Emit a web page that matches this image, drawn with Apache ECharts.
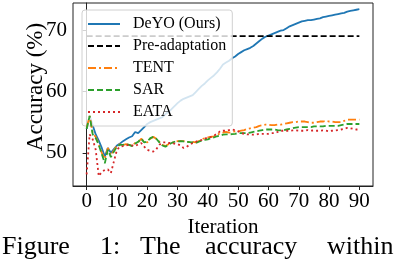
<!DOCTYPE html>
<html>
<head>
<meta charset="utf-8">
<script src="https://cdn.jsdelivr.net/npm/echarts@6/dist/echarts.min.js"></script>
<style>
html,body{margin:0;padding:0;background:#fff;}
#c{width:396px;height:262px;}
</style>
</head>
<body>
<div id="c"></div>
<script>
// Iteration 0..90 (value index = iteration)
const deyo = [53.9,56.0,54.5,53.0,52.0,50.8,49.4,50.8,50.0,50.6,
  51.2,51.5,51.9,52.2,52.5,52.7,53.4,53.2,53.7,54.2,
  54.7,55.0,55.2,55.4,55.6,55.8,56.3,56.7,57.1,57.6,
  58.1,58.5,58.8,59.0,59.2,59.4,59.9,60.4,60.9,61.3,
  61.8,62.2,62.6,63.1,63.7,64.4,64.7,65.0,65.4,65.7,
  66.1,66.4,66.7,66.9,67.1,67.4,67.8,68.2,68.6,68.9,
  69.1,69.3,69.5,69.7,69.9,70.0,70.3,70.6,70.8,71.0,
  71.2,71.4,71.5,71.6,71.6,71.7,71.8,71.9,72.1,72.2,
  72.3,72.4,72.5,72.6,72.7,72.8,73.0,73.1,73.2,73.3,73.4];
const preAdaptation = 69.0;
const preRange = [0, 90];
const tent = [54.1,56.0,53.2,52.6,51.4,50.0,49.0,50.8,49.6,50.4,
  51.2,51.4,51.3,51.4,51.3,51.2,51.6,51.7,52.3,51.8,
  51.7,52.3,52.6,52.3,51.8,51.3,51.1,51.4,51.6,51.8,
  51.9,51.9,51.9,51.8,51.8,51.8,51.7,51.9,52.2,52.4,
  52.5,52.6,52.7,52.9,53.2,53.3,53.4,53.3,53.4,53.5,
  53.5,53.6,53.7,53.9,54.0,54.1,54.2,54.4,54.5,54.6,
  54.6,54.5,54.5,54.6,54.6,54.7,54.8,54.9,55.0,55.0,
  55.1,55.1,55.1,55.0,54.9,54.9,55.0,55.1,55.1,55.2,
  55.1,55.1,55.0,55.0,55.0,55.2,55.4,55.4,55.4,55.4,55.4];
const sar = [53.9,56.0,53.0,52.4,51.3,49.8,48.3,50.5,49.3,50.2,
  51.0,51.3,51.3,51.4,51.3,51.1,51.5,51.8,52.3,51.7,
  51.8,52.4,52.6,52.3,51.7,51.2,51.0,51.3,51.6,51.8,
  51.85,51.9,51.85,51.8,51.75,51.7,51.6,51.8,52.0,52.1,
  52.2,52.4,52.5,52.7,52.8,52.95,53.0,53.0,53.05,53.1,
  53.2,53.2,53.2,53.2,53.3,53.4,53.5,53.6,53.7,53.8,
  53.8,53.8,53.8,53.7,53.65,53.7,53.8,53.9,54.0,54.1,
  54.2,54.2,54.2,54.2,54.2,54.3,54.3,54.3,54.3,54.4,
  54.4,54.4,54.4,54.4,54.5,54.6,54.7,54.7,54.7,54.7,54.7];
const eata = [46.5,53.0,52.2,50.5,46.2,46.9,47.2,47.3,46.7,48.6,
  50.5,51.0,51.1,51.2,51.3,51.2,51.1,51.4,51.6,51.0,
  50.5,50.3,50.2,50.6,51.3,51.7,51.7,51.6,51.6,51.5,
  51.4,51.2,50.8,51.0,51.3,51.6,51.8,52.0,52.1,52.3,
  52.5,52.6,52.8,53.1,53.5,53.6,53.6,53.7,53.8,53.7,
  53.5,53.2,53.1,53.0,53.0,52.95,53.0,53.1,53.1,53.1,
  53.1,53.2,53.2,53.4,53.6,53.6,53.6,53.6,53.65,53.65,
  53.6,53.6,53.6,53.7,53.6,53.65,53.6,53.6,53.65,53.6,
  53.5,53.6,53.65,53.7,53.8,53.9,54.05,54.0,53.9,53.8,53.8];
const xTicks = [0,10,20,30,40,50,60,70,80,90];
const yTicks = [50,60,70];
const seriesNames = ['DeYO (Ours)','Pre-adaptation','TENT','SAR','EATA'];
const captionWords = ['Figure','1:','The','accuracy','within'];

const FONT = '"Liberation Serif", "DejaVu Serif", serif';
const pairs = arr => arr.map((v, i) => [i, v]);

const chart = echarts.init(document.getElementById('c'), null, {renderer: 'canvas'});
const lw = 1.8;
const capX = [2, 100, 140, 205, 327];
const legendText = {fontFamily: FONT, fontSize: 16, color: '#000'};

chart.setOption({
  animation: false,
  backgroundColor: '#fff',
  grid: {left: 73, right: 23, top: 3, bottom: 76, show: true, borderColor: '#222', borderWidth: 1, containLabel: false},
  xAxis: {
    type: 'value', min: -4.5, max: 94.5,
    name: 'Iteration', nameLocation: 'middle', nameGap: 31, nameMoveOverlap: false,
    nameTextStyle: {fontFamily: FONT, fontSize: 21, color: '#000'},
    axisLine: {show: true, lineStyle: {color: '#222', width: 1}},
    axisTick: {show: true, length: 4, lineStyle: {color: '#222'}, customValues: xTicks},
    axisLabel: {fontFamily: FONT, fontSize: 21, color: '#000', margin: 5, customValues: xTicks},
    splitLine: {show: false}
  },
  yAxis: {
    type: 'value', min: 44.6, max: 74.4,
    name: 'Accuracy (%)', nameLocation: 'middle', nameGap: 26, nameMoveOverlap: false,
    nameTextStyle: {fontFamily: FONT, fontSize: 23, color: '#000', padding: [0, 0, 0, 15]},
    axisLine: {show: true, lineStyle: {color: '#222', width: 1}},
    axisTick: {show: true, length: 4, lineStyle: {color: '#222'}, customValues: yTicks},
    axisLabel: {fontFamily: FONT, fontSize: 21, color: '#000', margin: 6, customValues: yTicks},
    splitLine: {show: false}
  },
  legend: {
    orient: 'vertical', left: 82, top: 10,
    data: seriesNames.map(n => ({name: n, textStyle: legendText})),
    itemWidth: 32, itemHeight: 14, itemGap: 6,
    itemStyle: {opacity: 0},
    backgroundColor: 'rgba(255,255,255,0.8)', borderColor: '#d0d0d0', borderWidth: 1, borderRadius: 3,
    padding: [6, 6, 6, 5],
    formatter: '{g|}{name}',
    textStyle: {fontFamily: FONT, fontSize: 16, color: '#000', rich: {g: {width: 8}}},
    selectedMode: false
  },
  series: [
    {name: seriesNames[0], type: 'line', data: pairs(deyo), symbol: 'none', z: 2,
     lineStyle: {color: '#1f77b4', width: lw}, itemStyle: {color: '#1f77b4'}},
    {name: seriesNames[1], type: 'line', data: preRange.map(x => [x, preAdaptation]), symbol: 'none', z: 3,
     lineStyle: {color: '#000', width: lw, type: [6, 3]}, itemStyle: {color: '#000'}},
    {name: seriesNames[2], type: 'line', data: pairs(tent), symbol: 'none', z: 4,
     lineStyle: {color: '#ff7f0e', width: lw, type: [8, 3, 2, 3]}, itemStyle: {color: '#ff7f0e'}},
    {name: seriesNames[3], type: 'line', data: pairs(sar), symbol: 'none', z: 5,
     lineStyle: {color: '#2ca02c', width: lw, type: [6, 3]}, itemStyle: {color: '#2ca02c'}},
    {name: seriesNames[4], type: 'line', data: pairs(eata), symbol: 'none', z: 6,
     lineStyle: {color: '#d62728', width: lw, type: [2, 3]}, itemStyle: {color: '#d62728'}}
  ],
  graphic: captionWords.map((w, i) => ({
    type: 'text', left: capX[i], top: 234,
    style: {text: w, font: '26px ' + FONT, fill: '#000'}
  }))
});
</script>
</body>
</html>
